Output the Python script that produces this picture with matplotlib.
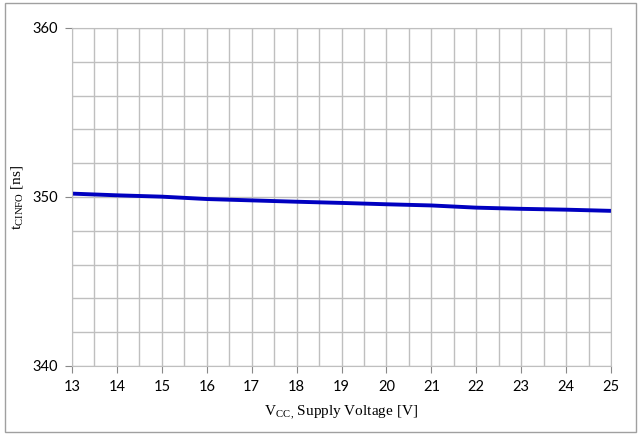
import matplotlib
matplotlib.use("Agg")
import matplotlib.pyplot as plt
from matplotlib.ticker import MultipleLocator
from matplotlib.patches import Rectangle

plt.rcParams['font.family'] = ['Lato', 'DejaVu Sans']

vcc = [13, 14, 15, 16, 17, 18, 19, 20, 21, 22, 23, 24, 25]
t_cinfo = [350.2, 350.1, 350.02, 349.88, 349.8, 349.72, 349.65, 349.57, 349.5, 349.37, 349.3, 349.25, 349.18]
x_ticks = list(range(13, 26))
y_ticks = [340, 350, 360]

fig = plt.figure(figsize=(6.41, 4.34), dpi=100)
ax = fig.add_axes([72/641, 1-366/434, (611-72)/641, (366-28)/434])

ax.set_xlim(13, 25)
ax.set_ylim(340, 360)
ax.xaxis.set_minor_locator(MultipleLocator(0.5))
ax.yaxis.set_minor_locator(MultipleLocator(2))
ax.set_xticks(x_ticks)
ax.set_yticks(y_ticks)
ax.grid(which='both', color='#bfbfbf', linewidth=1.0)
ax.set_axisbelow(True)
for s in ax.spines.values():
    s.set_color('#bfbfbf')
ax.tick_params(which='major', length=5, color='#888888', labelsize=10.5, pad=5)
ax.tick_params(which='minor', length=0)

ax.plot(vcc, t_cinfo, color='#0000c0', linewidth=2.8, solid_capstyle='butt')

ax.set_xlabel(r'V$_{\mathregular{CC}}$$_{\mathregular{,}}$ Supply Voltage [V]', fontfamily='Liberation Serif', fontsize=11, labelpad=7)
ax.set_ylabel(r't$_{\mathregular{CINFO}}$ [ns]', fontfamily='Liberation Serif', fontsize=11, labelpad=5)

fig.patches.append(Rectangle((5/641, 2/434), 631/641, 429/434, transform=fig.transFigure,
                             fill=False, edgecolor='#a0a0a0', linewidth=1))
fig.savefig('out.png', dpi=100)
